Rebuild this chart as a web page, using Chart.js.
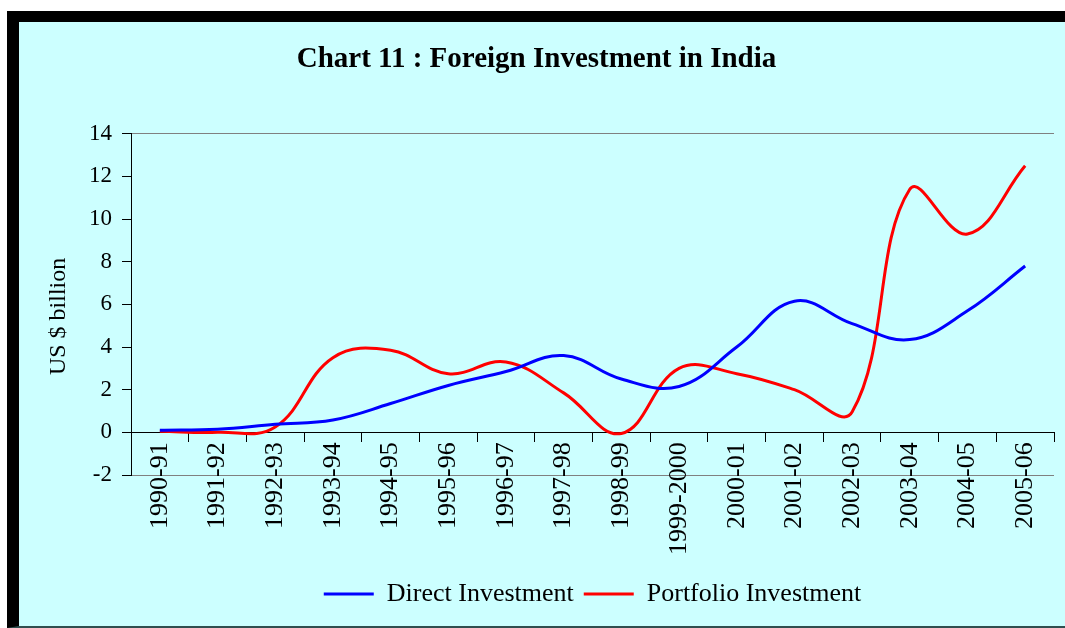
<!DOCTYPE html>
<html>
<head>
<meta charset="utf-8">
<script src="https://cdn.jsdelivr.net/npm/chart.js@4/dist/chart.umd.min.js"></script>
<style>
  html, body { margin: 0; padding: 0; background: #fff; }
  #frame {
    position: absolute; left: 7px; top: 11px; width: 1058px; height: 617px;
    box-sizing: border-box; background: #ccffff;
    border-top: 11px solid #000; border-left: 12px solid #000; border-bottom: 2px solid #2f4f4f;
  }
  #wrap { position: relative; width: 1046px; height: 604px; }
</style>
</head>
<body>
<div id="frame"><div id="wrap"><canvas id="chart"></canvas></div></div>
<script>
// Fiscal years on the x axis
const years = ['1990-91', '1991-92', '1992-93', '1993-94', '1994-95', '1995-96', '1996-97', '1997-98',
    '1998-99', '1999-2000', '2000-01', '2001-02', '2002-03', '2003-04', '2004-05', '2005-06'];

// US $ billion
const directInvestment = [0.1, 0.15, 0.38, 0.58, 1.35, 2.2, 2.85, 3.6, 2.5, 2.15, 4.0, 6.15, 5.1, 4.35, 5.7, 7.8];
const portfolioInvestment = [0.05, 0.0, 0.25, 3.5, 3.85, 2.75, 3.3, 1.85, -0.05, 3.0, 2.75, 2.0, 0.95, 11.4, 9.3, 12.5];

const yMin = -2;
const yMax = 14;
const yStep = 2;

const serif = "'Liberation Serif', 'Times New Roman', serif";
const frameGray = '#808080';

// Centre the legend under the plot area, the way the original does
const legendUnderPlot = {
    id: 'legendUnderPlot',
    afterLayout(chart) {
        const lg = chart.legend;
        lg.left = chart.chartArea.left;
        lg.right = chart.chartArea.right;
        lg.width = lg.right - lg.left;
    }
};

const makeLine = (label, data, color) => ({
    label,
    data,
    borderColor: color,
    backgroundColor: color,
    borderWidth: 3,
    pointRadius: 0,
    tension: 0.4,
    fill: false
});

new Chart(document.getElementById('chart'), {
    type: 'line',
    data: {
        labels: years,
        datasets: [
            makeLine('Direct Investment', directInvestment, '#0000ff'),
            makeLine('Portfolio Investment', portfolioInvestment, '#ff0000')
        ]
    },
    options: {
        responsive: true,
        maintainAspectRatio: false,
        animation: false,
        layout: { padding: { left: 0, right: 11, top: 0, bottom: 9 } },
        plugins: {
            title: {
                display: true,
                text: 'Chart 11 : Foreign Investment in India',
                color: '#000',
                font: { family: serif, size: 29, weight: 'bold' },
                padding: { top: 20, bottom: 57 }
            },
            legend: {
                position: 'bottom',
                title: { display: true, text: '', font: { size: 10, lineHeight: 1 }, padding: { top: 86, bottom: 0 } },
                labels: {
                    usePointStyle: true,
                    pointStyle: 'line',
                    pointStyleWidth: 50,
                    padding: 10,
                    color: '#000',
                    font: { family: serif, size: 26 }
                }
            },
            tooltip: { enabled: false }
        },
        scales: {
            x: {
                position: { y: 0 },
                offset: true,
                grid: {
                    offset: true,
                    drawOnChartArea: true,
                    color: (ctx) => ctx.index === years.length ? frameGray : 'rgba(0,0,0,0)',
                    tickColor: '#000',
                    tickLength: 9
                },
                border: { color: '#000', width: 1 },
                ticks: {
                    autoSkip: false,
                    minRotation: 90,
                    maxRotation: 90,
                    padding: 1,
                    color: '#000',
                    font: { family: serif, size: 26 }
                }
            },
            y: {
                min: yMin,
                max: yMax,
                afterFit: (scale) => { scale.width = 112; },
                grid: {
                    color: (ctx) => (ctx.tick && (ctx.tick.value === yMax || ctx.tick.value === yMin)) ? frameGray : 'rgba(0,0,0,0)',
                    tickColor: '#000',
                    tickLength: 9
                },
                border: { color: '#000', width: 1 },
                ticks: {
                    stepSize: yStep,
                    padding: 10,
                    color: '#000',
                    font: { family: serif, size: 23 }
                },
                title: {
                    display: true,
                    // trailing spaces nudge the rotated title a little lower, as in the original
                    text: 'US $ billion    ',
                    color: '#000',
                    font: { family: serif, size: 24 },
                    padding: { top: 25, bottom: 0 }
                }
            }
        }
    },
    plugins: [legendUnderPlot]
});
</script>
</body>
</html>
